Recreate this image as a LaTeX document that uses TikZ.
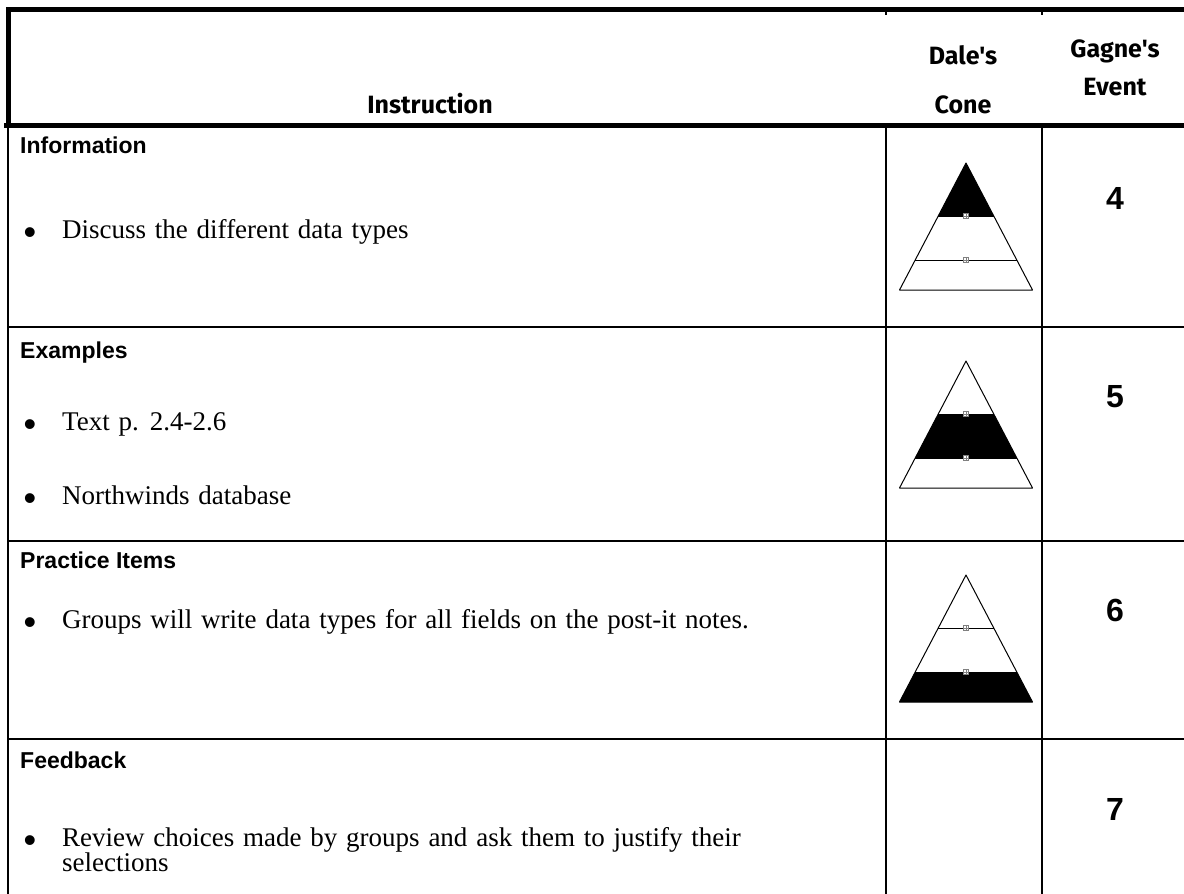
\documentclass[tikz,border=0pt]{standalone}
\usepackage{fontspec}
\setmainfont{Liberation Serif}[WordSpace=1.3]
\newfontfamily\headfont{Fira Sans}
\newfontfamily\titlefont{Liberation Sans}
\newfontfamily\dotfont{Liberation Sans}
\usetikzlibrary{positioning}

\begin{document}
\begin{tikzpicture}[x=1pt,y=-1pt]
\useasboundingbox (0,0) rectangle (1184,894);

\tikzstyle{head} = [font=\headfont\bfseries\fontsize{25}{28}\selectfont, inner sep=0pt, anchor=base]
\tikzstyle{rowtitle} = [font=\titlefont\bfseries\fontsize{23}{26}\selectfont, inner sep=0pt, anchor=base west]
\tikzstyle{item} = [font=\fontsize{27}{28}\selectfont, inner sep=0pt, anchor=base west]
\tikzstyle{dot} = [font=\dotfont\fontsize{36}{36}\selectfont, inner sep=0pt, anchor=base]
\tikzstyle{event} = [font=\titlefont\bfseries\fontsize{32}{32}\selectfont, inner sep=0pt]
\tikzstyle{thickrule} = [line width=5pt]
\tikzstyle{rule} = [line width=2pt]
\tikzstyle{cone} = [line width=1pt, line join=round]
\tikzstyle{handle} = [draw=gray, fill=white, minimum size=5pt, inner sep=0pt, line width=0.4pt, path picture={\draw[gray,line width=0.3pt] (path picture bounding box.north) -- (path picture bounding box.south) (path picture bounding box.west) -- (path picture bounding box.east);}]

% Table frame
\draw[thickrule] (6,9.5) -- (1184,9.5);
\draw[thickrule] (8.5,7) -- (8.5,128);
\draw[thickrule] (4,125.5) -- (1184,125.5);
\draw[rule] (7.5,128) -- (7.5,894);
\draw[rule] (886,128) -- (886,894);
\draw[rule] (1042,128) -- (1042,894);
\draw[rule] (886,12) -- (886,15);
\draw[rule] (1042,12) -- (1042,15);
\foreach \ry in {327,541,739}
  \draw[rule] (7.5,\ry) -- (1184,\ry);

% Header
\node[head] (instr) at (430,113) {Instruction};
\node[head] (dale) at (963,64) {Dale's};
\node[head] (cone) at (963,113) {Cone};
\node[head] (gagne) at (1115,57) {Gagne's};
\node[head] (event) at (1115,95) {Event};

% Rows
\node[rowtitle] (info) at (20,153) {Information};
\node[dot] (b1) at (30,244) {•};
\node[item] (discuss) at (62,238) {Discuss the different data types};

\node[rowtitle] (examples) at (20,358) {Examples};
\node[dot] (b2) at (30,436) {•};
\node[item] (textp) at (62,430) {Text p. 2.4-2.6};
\node[dot] (b3) at (30,510) {•};
\node[item] (northwinds) at (62,504) {Northwinds database};

\node[rowtitle] (practice) at (20,568) {Practice Items};
\node[dot] (b4) at (30,634) {•};
\node[item] (groups) at (62,628) {Groups will write data types for all fields on the post-it notes.};

\node[rowtitle] (feedback) at (20,768) {Feedback};
\node[dot] (b5) at (30,852) {•};
\node[item] (review) at (62,846) {Review choices made by groups and ask them to justify their};
\node[item] (selections) at ([yshift=-25pt]review.base west) {selections};

% Gagne's events
\node[event] (ev4) at (1115,198) {4};
\node[event] (ev5) at (1115,397) {5};
\node[event] (ev6) at (1115,610) {6};
\node[event] (ev7) at (1115,809) {7};

% Dale's cones
\fill (966,163) -- (938.3,216) -- (993.7,216) -- cycle;
\fill (938.3,414) -- (993.7,414) -- (1016.8,458) -- (915.2,458) -- cycle;
\fill (915.2,672) -- (1016.8,672) -- (1032.5,702) -- (899.5,702) -- cycle;
\foreach \cy in {163,361,575} {
  \draw[cone] (966,\cy) -- (899.5,\cy+127) -- (1032.5,\cy+127) -- cycle;
  \draw[cone] (938.3,\cy+53) -- (993.7,\cy+53);
  \draw[cone] (915.2,\cy+97) -- (1016.8,\cy+97);
  \node[handle] at (966,\cy+53) {};
  \node[handle] at (966,\cy+97) {};
}
\end{tikzpicture}
\end{document}
